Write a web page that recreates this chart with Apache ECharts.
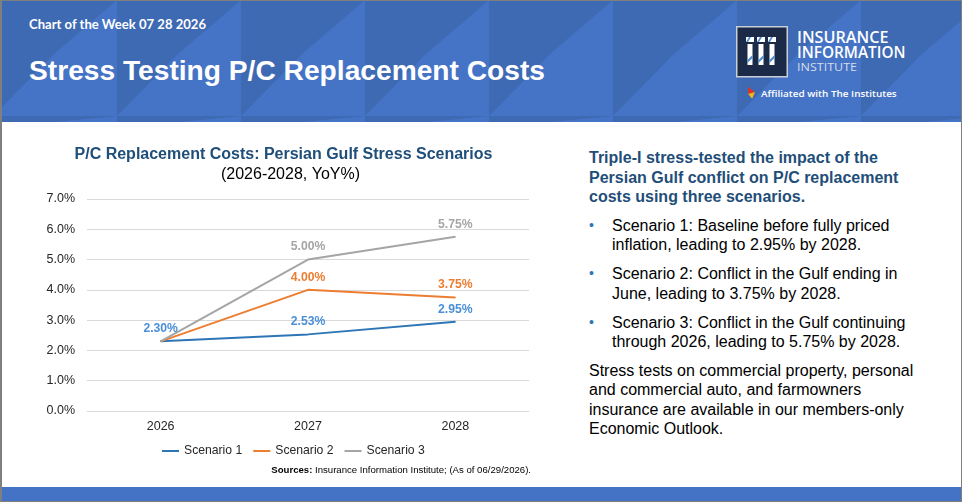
<!DOCTYPE html>
<html>
<head>
<meta charset="utf-8">
<script src="https://cdn.jsdelivr.net/npm/echarts@6/dist/echarts.min.js"></script>
<style>
html,body{margin:0;padding:0;width:962px;height:502px;overflow:hidden;background:#fff;font-family:"Liberation Sans",Arial,sans-serif;}
#hdr{position:absolute;left:0;top:0;width:962px;height:122px;}
#chart{position:absolute;left:0;top:122px;width:560px;height:365px;}
#right{position:absolute;left:589px;top:148.4px;width:360px;font-size:16px;line-height:19.2px;color:#000;white-space:nowrap;}
#right .hd{font-weight:bold;color:#1f4e79;}
#right .bl{position:relative;padding-left:23px;margin-top:10px;}
#right .dot{position:absolute;left:0;top:0;color:#2e75b6;font-size:14px;}
#right .pg{margin-top:10px;}
#bottom{position:absolute;left:0;top:487px;width:962px;height:15px;background:#4472c4;}
#border{position:absolute;left:0;top:0;width:962px;height:502px;box-sizing:border-box;border:1px solid #7f7f7f;border-left-width:2px;pointer-events:none;}
</style>
</head>
<body>
<svg id="hdr" width="962" height="122" xmlns="http://www.w3.org/2000/svg"></svg>
<div id="chart"></div>
<div id="right">
  <div class="hd">Triple-I stress-tested the impact of the<br>Persian Gulf conflict on P/C replacement<br>costs using three scenarios.</div>
  <div class="bl"><span class="dot">&#8226;</span>Scenario 1: Baseline before fully priced<br>inflation, leading to 2.95% by 2028.</div>
  <div class="bl"><span class="dot">&#8226;</span>Scenario 2: Conflict in the Gulf ending in<br>June, leading to 3.75% by 2028.</div>
  <div class="bl"><span class="dot">&#8226;</span>Scenario 3: Conflict in the Gulf continuing<br>through 2026, leading to 5.75% by 2028.</div>
  <div class="pg">Stress tests on commercial property, personal<br>and commercial auto, and farmowners<br>insurance are available in our members-only<br>Economic Outlook.</div>
</div>
<div id="bottom"></div>
<div id="border"></div>
<script>
// ---- data ----
const categories = ['2026', '2027', '2028'];
const scenarioNames = ['Scenario 1', 'Scenario 2', 'Scenario 3'];
const scenario1 = [2.30, 2.53, 2.95];
const scenario2 = [2.30, 4.00, 3.75];
const scenario3 = [2.30, 5.00, 5.75];
const yMin = 0;
const yMax = 7;
const yStep = 1;

// ---- styles ----
const lineColors = ['#2e75b6', '#ed7d31', '#a5a5a5'];
const labelColors = ['#4a8fd8', '#ed7d31', '#a5a5a5'];
const FF = '"Liberation Sans", Arial, sans-serif';

// ---- header decoration ----
(function buildHeader() {
  const svg = document.getElementById('hdr');
  const dark = '#3e69b3', light = '#4573c5';
  let s = '<rect x="0" y="0" width="962" height="122" fill="' + light + '"/>';
  const W = 62;
  const rows = [[0, 53], [53, 116], [116, 122]];
  for (let k = -2; k < 18; k++) {
    const x0 = -7 + W * k, x1 = x0 + W;
    const isA = (k % 2 !== 0);
    rows.forEach((r, ri) => {
      const y0 = r[0], y1 = r[1];
      if (ri !== 1) {
        if (isA) {
          s += '<polygon points="' + x0 + ',' + y0 + ' ' + x1 + ',' + y0 + ' ' + x0 + ',' + y1 + '" fill="' + dark + '"/>';
        } else {
          s += '<rect x="' + x0 + '" y="' + y0 + '" width="' + W + '" height="' + (y1 - y0) + '" fill="' + dark + '"/>';
        }
      } else if (!isA) {
        s += '<polygon points="' + x0 + ',' + y0 + ' ' + x1 + ',' + y0 + ' ' + x0 + ',' + y1 + '" fill="' + dark + '"/>';
      }
    });
  }
  // logo box
  s += '<rect x="736.75" y="26.75" width="50.5" height="50" fill="#1b2b47" stroke="#c9ced8" stroke-width="1.5"/>';
  [746, 757, 768].forEach(cx => {
    s += '<rect x="' + cx + '" y="37" width="8" height="5" fill="#ffffff"/>';
    s += '<polygon points="' + cx + ',42 ' + (cx + 3) + ',37 ' + (cx + 5) + ',37 ' + (cx + 2) + ',42" fill="#4a8fd8"/>';
    s += '<rect x="' + (cx + 1.5) + '" y="44" width="5" height="21" fill="#ffffff"/>';
    s += '<polygon points="' + (cx + 1.5) + ',60 ' + (cx + 6.5) + ',55 ' + (cx + 6.5) + ',58 ' + (cx + 1.5) + ',63" fill="#4a8fd8"/>';
  });
  // affiliated icon
  s += '<polygon points="748,87 755,92 748,94" fill="#d9342b"/>';
  s += '<polygon points="748,94 755,92 752,99" fill="#f2b51b"/>';
  s += '<polygon points="748,94 752,99 748,100" fill="#2f6fbf"/>';
  // texts
  s += '<text x="29" y="29.3" font-family="Lato, \'Open Sans\', sans-serif" font-weight="bold" font-size="13" fill="#ffffff" textLength="177" lengthAdjust="spacingAndGlyphs">Chart of the Week 07 28 2026</text>';
  s += '<text x="29" y="80" font-family="\'Liberation Sans\', Arial, sans-serif" font-weight="bold" font-size="28" fill="#ffffff" textLength="516" lengthAdjust="spacingAndGlyphs">Stress Testing P/C Replacement Costs</text>';
  s += '<text x="797" y="43.3" font-family="\'Open Sans\', sans-serif" font-weight="600" font-size="15.3" fill="#ffffff" textLength="91.5" lengthAdjust="spacingAndGlyphs">INSURANCE</text>';
  s += '<text x="797" y="58.3" font-family="\'Open Sans\', sans-serif" font-weight="600" font-size="15.3" fill="#ffffff" textLength="108.5" lengthAdjust="spacingAndGlyphs">INFORMATION</text>';
  s += '<text x="797" y="71.2" font-family="\'Open Sans\', sans-serif" font-weight="400" font-size="11" fill="#d6dcea" textLength="60" lengthAdjust="spacingAndGlyphs">INSTITUTE</text>';
  s += '<text x="761" y="96.8" font-family="\'Open Sans\', sans-serif" font-weight="600" font-size="9.6" fill="#ffffff" textLength="135.7" lengthAdjust="spacingAndGlyphs">Affiliated with The Institutes</text>';
  svg.innerHTML = s;
})();

// ---- chart ----
const chart = echarts.init(document.getElementById('chart'), null, { renderer: 'canvas' });
const seriesValues = [scenario1, scenario2, scenario3];
const series = seriesValues.map((arr, si) => ({
  name: scenarioNames[si],
  type: 'line',
  symbol: 'circle',
  symbolSize: 1,
  showSymbol: true,
  smooth: false,
  lineStyle: { width: 2, color: lineColors[si] },
  itemStyle: { color: lineColors[si] },
  label: {
    show: true,
    position: 'top',
    distance: 6,
    color: labelColors[si],
    fontWeight: 'bold',
    fontSize: 12.2,
    fontFamily: FF,
    formatter: p => Number(p.value).toFixed(2) + '%'
  },
  emphasis: { disabled: true },
  data: arr.map((v, i) => (si > 0 && i === 0) ? { value: v, label: { show: false } } : v)
}));

chart.setOption({
  animation: false,
  backgroundColor: 'transparent',
  textStyle: { fontFamily: FF },
  grid: { left: 87, right: 31, top: 77, bottom: 76, containLabel: false },
  legend: {
    data: scenarioNames,
    left: 157,
    top: 318,
    icon: 'rect',
    itemWidth: 17,
    itemHeight: 2,
    itemGap: 11,
    textStyle: { fontSize: 12.2, color: '#262626', fontFamily: FF }
  },
  xAxis: {
    type: 'category',
    data: categories,
    boundaryGap: true,
    axisLine: { show: false },
    axisTick: { show: false },
    axisLabel: { fontSize: 12.5, color: '#262626', margin: 9, fontFamily: FF }
  },
  yAxis: {
    type: 'value',
    min: yMin,
    max: yMax,
    interval: yStep,
    axisLine: { show: false },
    axisTick: { show: false },
    axisLabel: { fontSize: 12.5, color: '#262626', margin: 12, fontFamily: FF, formatter: v => v.toFixed(1) + '%' },
    splitLine: { lineStyle: { color: '#d9d9d9', width: 1 } }
  },
  graphic: [
    { type: 'text', x: 283.5, y: 33, silent: true,
      style: { text: 'P/C Replacement Costs: Persian Gulf Stress Scenarios', font: 'bold 16px ' + FF, fill: '#1f4e79',
               align: 'center', verticalAlign: 'middle', textAlign: 'center', textVerticalAlign: 'middle' } },
    { type: 'text', x: 290.5, y: 53, silent: true,
      style: { text: '(2026-2028, YoY%)', font: '16px ' + FF, fill: '#000000',
               align: 'center', verticalAlign: 'middle', textAlign: 'center', textVerticalAlign: 'middle' } },
    { type: 'text', x: 531, y: 348, silent: true,
      style: { text: '{b|Sources:} Insurance Information Institute; (As of 06/29/2026).', font: '9.6px ' + FF, fill: '#000000',
               rich: { b: { fontWeight: 'bold', fontSize: 9.6, fontFamily: FF, fill: '#000000' } },
               align: 'right', verticalAlign: 'middle', textAlign: 'right', textVerticalAlign: 'middle' } }
  ],
  series: series
});
</script>
</body>
</html>
